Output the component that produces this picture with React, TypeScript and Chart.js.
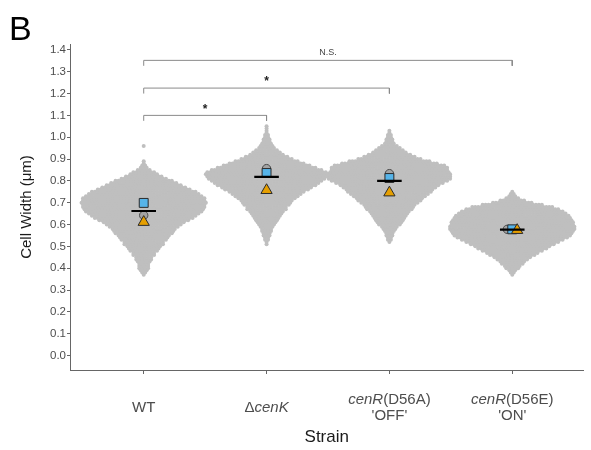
import React, { useEffect, useRef } from 'react';
import { Chart, registerables } from 'chart.js';

Chart.register(...registerables);

// ---------------- data ----------------
const CATEGORIES = ['WT', 'ΔcenK', 'cenR(D56A)', 'cenR(D56E)'];
// label pieces: [text, italic]
const LABEL_LINES: [string, boolean][][][] = [
  [[['WT', false]]],
  [[['Δ', false], ['cenK', true]]],
  [[['cenR', true], ['(D56A)', false]], [["'OFF'", false]]],
  [[['cenR', true], ['(D56E)', false]], [["'ON'", false]]],
];
const Y_TICKS = [0.0, 0.1, 0.2, 0.3, 0.4, 0.5, 0.6, 0.7, 0.8, 0.9, 1.0, 1.1, 1.2, 1.3, 1.4];

// number of cells per 0.01 µm width bin (beeswarm)
const BIN_STEP = 0.01;
const BIN_START = [0.37, 0.51, 0.52, 0.37];
const WT_COUNTS = [1, 2, 3, 4, 4, 4, 5, 6, 6, 8, 8, 10, 11, 12, 14, 14, 16, 17, 18, 20, 21, 22, 24, 26, 28, 31, 34, 36, 38, 40, 41, 42, 42, 43, 42, 42, 40, 38, 36, 32, 29, 26, 23, 20, 16, 13, 10, 8, 5, 3, 2, 1, 1];
const CENK_COUNTS = [1, 1, 2, 2, 3, 3, 4, 4, 5, 6, 7, 8, 9, 10, 11, 12, 14, 14, 16, 17, 18, 20, 22, 24, 26, 29, 31, 34, 36, 38, 40, 41, 42, 41, 38, 34, 30, 26, 22, 18, 15, 12, 10, 8, 6, 5, 4, 3, 3, 2, 2, 1, 1, 1, 1];
const D56A_COUNTS = [1, 2, 2, 3, 3, 4, 5, 6, 8, 9, 10, 11, 12, 13, 14, 16, 17, 18, 20, 22, 23, 25, 27, 29, 30, 32, 34, 37, 40, 42, 42, 42, 41, 40, 40, 38, 33, 28, 22, 18, 15, 12, 10, 8, 6, 4, 3, 3, 2, 2, 1, 1];
const D56E_COUNTS = [1, 2, 3, 5, 6, 8, 9, 11, 13, 16, 18, 21, 24, 26, 29, 32, 35, 38, 40, 41, 42, 43, 43, 42, 42, 41, 40, 39, 37, 35, 32, 28, 21, 14, 9, 5, 3, 2, 1];
const OUTLIERS = [[0.96], [], [], []];

// replicate means and overall mean
const REP1_MEANS = [0.642, 0.856, 0.833, 0.578]; // grey circle
const REP2_MEANS = [0.699, 0.836, 0.813, 0.578]; // blue square
const REP3_MEANS = [0.611, 0.757, 0.746, 0.574]; // orange triangle
const OVERALL_MEANS = [0.662, 0.818, 0.8, 0.577];

// significance brackets
const BRACKET_FROM = [1, 1, 1];
const BRACKET_TO = [2, 3, 4];
const BRACKET_Y = [1.1, 1.225, 1.352];
const BRACKET_LABEL = ['*', '*', 'N.S.'];

// ---------------- styling constants ----------------
const X_MIN = 0.4;
const X_MAX = 4.58;
const Y_MIN = -0.0665;
const Y_MAX = 1.427;
const SWARM_SPACING = 0.0241; // x units between neighbouring dots
const MEAN_HALF = 0.1;
const BRACKET_DROP = 0.025;
const FONT = '"Liberation Sans", Arial, sans-serif';

const ALL_COUNTS = [WT_COUNTS, CENK_COUNTS, D56A_COUNTS, D56E_COUNTS];

function swarmPoints() {
  const pts: { x: number; y: number }[] = [];
  ALL_COUNTS.forEach((counts, ci) => {
    const cx = ci + 1;
    counts.forEach((n, k) => {
      const y = BIN_START[ci] + k * BIN_STEP;
      for (let j = 0; j < n; j++) {
        pts.push({ x: cx + (j - (n - 1) / 2) * SWARM_SPACING, y });
      }
    });
    OUTLIERS[ci].forEach((v) => pts.push({ x: cx, y: v }));
  });
  return pts;
}

// small deterministic dodge so coincident replicate means sit side by side
function dodgedMeans() {
  const series = [REP1_MEANS, REP2_MEANS, REP3_MEANS];
  const out: { x: number; y: number }[][] = [[], [], []];
  for (let ci = 0; ci < CATEGORIES.length; ci++) {
    const placed: { x: number; y: number }[] = [];
    const orderIdx = [1, 0, 2];
    orderIdx.forEach((si) => {
      const y = series[si][ci];
      const step = 0.04;
      const cands = [0, -step, step, 2 * step, -2 * step];
      let x = ci + 1;
      for (const c of cands) {
        const tx = ci + 1 + c;
        const ok = placed.every((p) => {
          const dx = (p.x - tx) * 124;
          const dy = (p.y - y) * 218;
          return Math.hypot(dx, dy) >= 2.5;
        });
        if (ok) { x = tx; break; }
      }
      placed.push({ x, y });
      out[si][ci] = { x, y };
    });
    // re-centre dodged group
    const xs = placed.map((p) => p.x);
    const shift = (Math.max(...xs) + Math.min(...xs)) / 2 - (ci + 1);
    if (Math.abs(shift) > 1e-9) {
      for (let si = 0; si < 3; si++) out[si][ci] = { x: out[si][ci].x - shift, y: out[si][ci].y };
    }
  }
  return out;
}

const textPlugin = {
  id: 'texts',
  afterDraw(chart: any) {
    const { ctx } = chart;
    const xs = chart.scales.x;
    const ys = chart.scales.y;
    ctx.save();
    // panel letter
    ctx.fillStyle = '#000';
    ctx.font = `34px ${FONT}`;
    ctx.textAlign = 'left';
    ctx.textBaseline = 'alphabetic';
    ctx.fillText('B', 9, 40);

    // y title
    ctx.save();
    ctx.translate(27, (chart.chartArea.top + chart.chartArea.bottom) / 2);
    ctx.rotate(-Math.PI / 2);
    ctx.textAlign = 'center';
    ctx.textBaseline = 'middle';
    ctx.font = `15px ${FONT}`;
    ctx.fillStyle = '#1a1a1a';
    ctx.fillText('Cell Width (μm)', 0, 0);
    ctx.restore();

    // x tick labels with mixed italics
    ctx.textBaseline = 'middle';
    ctx.textAlign = 'left';
    ctx.fillStyle = '#4d4d4d';
    LABEL_LINES.forEach((lines, ci) => {
      const cx = xs.getPixelForValue(ci + 1);
      const lineH = 16;
      const y0 = lines.length === 1 ? 408 : 400;
      lines.forEach((parts, li) => {
        let w = 0;
        parts.forEach(([t, it]) => {
          ctx.font = `${it ? 'italic ' : ''}15px ${FONT}`;
          w += ctx.measureText(t).width;
        });
        let x = cx - w / 2;
        parts.forEach(([t, it]) => {
          ctx.font = `${it ? 'italic ' : ''}15px ${FONT}`;
          ctx.fillText(t, x, y0 + li * lineH);
          x += ctx.measureText(t).width;
        });
      });
    });

    // x title
    ctx.textAlign = 'center';
    ctx.font = `17px ${FONT}`;
    ctx.fillStyle = '#1a1a1a';
    ctx.fillText('Strain', (chart.chartArea.left + chart.chartArea.right) / 2, 437);

    // bracket labels
    BRACKET_LABEL.forEach((lab, i) => {
      const mx = xs.getPixelForValue((BRACKET_FROM[i] + BRACKET_TO[i]) / 2);
      const py = ys.getPixelForValue(BRACKET_Y[i]);
      if (lab === '*') {
        ctx.font = `bold 12px ${FONT}`;
        ctx.fillStyle = '#222';
        ctx.fillText(lab, mx, py - 6);
      } else {
        ctx.font = `9px ${FONT}`;
        ctx.fillStyle = '#444';
        ctx.fillText(lab, mx, py - 8);
      }
    });
    ctx.restore();
  },
};

export default function App() {
  const ref = useRef<HTMLCanvasElement | null>(null);
  useEffect(() => {
    document.body.style.margin = '0';
    if (!ref.current) return;
    const means = dodgedMeans();
    const datasets: any[] = [];
    datasets.push({
      label: 'cells',
      data: swarmPoints(),
      pointRadius: 2,
      pointHoverRadius: 2,
      backgroundColor: '#bfbfbf',
      borderWidth: 0,
      order: 10,
    });
    datasets.push({
      label: 'rep1',
      data: means[0],
      pointStyle: 'circle',
      pointRadius: 4.2,
      backgroundColor: '#a3a3a3',
      borderColor: '#4a4a4a',
      borderWidth: 1,
      order: 6,
    });
    datasets.push({
      label: 'rep2',
      data: means[1],
      pointStyle: 'rect',
      pointRadius: 6.3,
      backgroundColor: '#56B4E9',
      borderColor: '#2b2b2b',
      borderWidth: 1,
      order: 5,
    });
    datasets.push({
      label: 'rep3',
      data: means[2],
      pointStyle: 'triangle',
      pointRadius: 6.5,
      backgroundColor: '#E69F00',
      borderColor: '#2b2b2b',
      borderWidth: 1,
      order: 4,
    });
    OVERALL_MEANS.forEach((m, ci) => {
      datasets.push({
        label: 'mean' + ci,
        data: [
          { x: ci + 1 - MEAN_HALF, y: m },
          { x: ci + 1 + MEAN_HALF, y: m },
        ],
        showLine: true,
        borderColor: '#000',
        borderWidth: 2.2,
        pointRadius: 0,
        order: 3,
      });
    });
    BRACKET_Y.forEach((by, i) => {
      datasets.push({
        label: 'bracket' + i,
        data: [
          { x: BRACKET_FROM[i], y: by - BRACKET_DROP },
          { x: BRACKET_FROM[i], y: by },
          { x: BRACKET_TO[i], y: by },
          { x: BRACKET_TO[i], y: by - BRACKET_DROP },
        ],
        showLine: true,
        borderColor: '#8a8a8a',
        borderWidth: 1,
        pointRadius: 0,
        order: 2,
      });
    });

    const chart = new Chart(ref.current, {
      type: 'scatter',
      data: { datasets },
      options: {
        animation: false,
        responsive: true,
        maintainAspectRatio: false,
        layout: { padding: { top: 44, right: 1, left: 0, bottom: 0 } },
        plugins: { legend: { display: false }, tooltip: { enabled: false } },
        events: [],
        scales: {
          x: {
            type: 'linear',
            min: X_MIN,
            max: X_MAX,
            afterBuildTicks: (s: any) => {
              s.ticks = CATEGORIES.map((_, i) => ({ value: i + 1 }));
            },
            afterFit: (s: any) => {
              s.height = 80;
            },
            ticks: { callback: () => '', padding: 0 },
            grid: { display: true, drawOnChartArea: false, drawTicks: true, tickLength: 4, color: '#666' },
            border: { display: true, color: '#666', width: 1 },
          },
          y: {
            type: 'linear',
            min: Y_MIN,
            max: Y_MAX,
            afterBuildTicks: (s: any) => {
              s.ticks = Y_TICKS.map((v) => ({ value: v }));
            },
            afterFit: (s: any) => {
              s.width = 70;
            },
            ticks: {
              callback: (v: any) => Number(v).toFixed(1),
              font: { family: FONT, size: 11.5 },
              color: '#4d4d4d',
              padding: 1,
            },
            grid: { display: true, drawOnChartArea: false, drawTicks: true, tickLength: 3, color: '#666' },
            border: { display: true, color: '#666', width: 1 },
          },
        },
      },
      plugins: [textPlugin],
    });
    return () => chart.destroy();
  }, []);
  return (
    <div style={{ position: 'relative', width: 591, height: 450 }}>
      <canvas ref={ref} />
    </div>
  );
}
